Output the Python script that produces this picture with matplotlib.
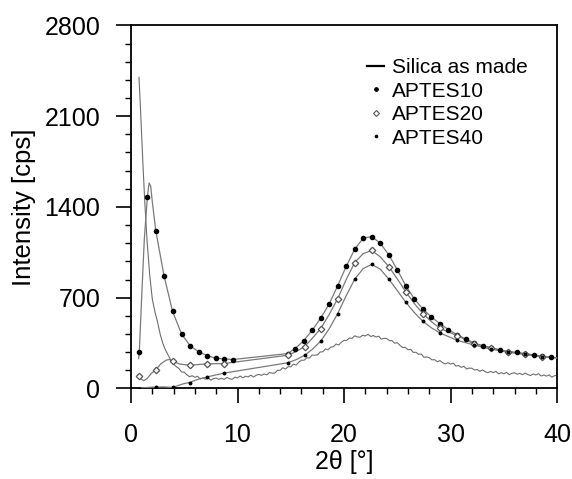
import numpy as np
import matplotlib
matplotlib.use("Agg")
import matplotlib.pyplot as plt
from matplotlib.lines import Line2D
from matplotlib.ticker import MultipleLocator

plt.rcParams['font.family'] = ['Liberation Sans', 'DejaVu Sans']

# ---------------- data ----------------
# Silica as made: steep low-angle part, then noisy scan at 0.25 deg steps
silica_head_x = [0.75, 0.85, 1.0, 1.15, 1.3, 1.5, 1.75, 2.0, 2.25, 2.5, 2.75,
                 3.0, 3.25, 3.5, 3.75, 4.0, 4.25]
silica_head_y = [2400, 2230, 1950, 1680, 1430, 1150, 880, 690, 590, 510, 415,
                 345, 295, 255, 218, 190, 168]
silica_scan_start = 4.5
silica_scan_step = 0.25
silica_scan_y = [
    154, 127, 126, 105, 91, 98, 86, 94,
    73, 81, 71, 82, 64, 76, 80, 70,
    79, 70, 85, 75, 71, 87, 82, 96,
    82, 94, 89, 103, 88, 102, 109, 101,
    112, 105, 123, 118, 119, 140, 140, 160,
    150, 168, 167, 188, 180, 203, 218, 218,
    236, 235, 258, 256, 259, 281, 283, 305,
    298, 319, 322, 343, 335, 357, 371, 371,
    389, 386, 406, 398, 395, 411, 405, 418,
    401, 408, 397, 403, 380, 387, 386, 369,
    369, 349, 353, 332, 316, 317, 298, 302,
    278, 279, 263, 266, 240, 243, 238, 221,
    222, 206, 215, 199, 189, 199, 188, 195,
    173, 177, 163, 171, 150, 157, 156, 142,
    146, 132, 143, 129, 121, 132, 122, 132,
    113, 122, 113, 124, 106, 117, 121, 110,
    117, 106, 119, 107, 100, 112, 104, 114,
    96, 104, 95, 105, 87, 98, 101,
]

# APTES10 (filled circles)
a10_x = [0.72, 0.78, 1.0, 1.25, 1.54, 1.7, 1.85, 2.0, 2.33, 3.1, 3.9, 4.75,
         5.55, 6.35, 7.15, 7.95, 8.75, 9.55, 14.7, 15.4, 16.2, 17.0, 17.8,
         18.6, 19.4, 20.2, 21.0, 21.8, 22.6, 23.4, 24.2, 25.0, 25.8, 26.6,
         27.4, 28.2, 29.0, 29.8, 30.6, 31.4, 32.2, 33.0, 33.8, 34.6, 35.4,
         36.2, 37.0, 37.8, 38.6, 39.4, 40.0]
a10_y = [230, 282, 700, 1150, 1480, 1585, 1560, 1440, 1215, 870, 595, 420,
         330, 282, 254, 233, 228, 223, 269, 308, 367, 448, 541,
         651, 792, 941, 1074, 1159, 1171, 1120, 1030, 915, 792, 690,
         613, 551, 500, 454, 415, 382, 351, 330, 313, 298, 285,
         279, 269, 259, 248, 241, 236]
a10_marker_x = [0.78, 1.54, 2.33, 3.1, 3.9, 4.75, 5.55, 6.35, 7.15, 7.95, 8.75,
                9.55, 14.7, 15.4, 16.2, 17.0, 17.8, 18.6, 19.4, 20.2, 21.0,
                21.8, 22.6, 23.4, 24.2, 25.0, 25.8, 26.6, 27.4, 28.2, 29.0,
                29.8, 30.6, 31.4, 32.2, 33.0, 33.8, 34.6, 35.4, 36.2, 37.0,
                37.8, 38.6, 39.4]

# APTES20 (open diamonds)
a20_x = [0.72, 0.9, 1.2, 1.5, 1.9, 2.36, 2.8, 3.3, 3.6, 3.92, 4.6, 5.5, 7.1,
         8.7, 14.7, 15.5, 16.3, 17.0, 17.8, 18.6, 19.4, 20.2, 21.0, 21.8,
         22.6, 23.4, 24.2, 25.0, 25.8, 26.6, 27.4, 28.2, 29.0, 30.6, 32.2,
         33.8, 35.4, 37.0, 38.6, 40.0]
a20_y = [95, 75, 60, 75, 115, 146, 190, 218, 224, 208, 188, 179, 190,
         192, 256, 285, 323, 385, 461, 570, 692, 840, 971, 1040,
         1064, 1015, 940, 845, 744, 655, 577, 515, 464, 408, 344,
         313, 283, 264, 246, 236]
a20_marker_x = [0.72, 2.36, 3.92, 5.5, 7.1, 8.7, 14.7, 16.3, 17.8, 19.4, 21.0,
                22.6, 24.2, 25.8, 27.4, 29.0, 30.6, 32.2, 33.8, 35.4, 37.0,
                38.6]

# APTES40 (small dots)
a40_x = [0.75, 1.0, 2.0, 2.36, 3.0, 3.92, 4.5, 5.0, 5.5, 6.0, 6.5, 7.1, 8.7,
         14.7, 15.5, 16.3, 17.0, 17.8, 18.6, 19.4, 20.2, 21.0, 21.8, 22.6,
         23.4, 24.2, 25.0, 25.8, 26.6, 27.4, 28.2, 29.0, 30.6, 32.2, 33.8,
         35.4, 37.0, 38.6, 40.0]
a40_y = [-5, 5, 10, 10, 12, 8, 25, 38, 46, 62, 76, 88, 118,
         198, 222, 256, 300, 364, 460, 577, 715, 843, 925, 957,
         920, 843, 755, 664, 585, 518, 468, 428, 372, 335, 303,
         280, 262, 245, 236]
a40_marker_x = [0.75, 2.36, 3.92, 5.5, 7.1, 8.7, 14.7, 16.3, 17.8, 19.4, 21.0,
                22.6, 24.2, 25.8, 27.4, 29.0, 30.6, 32.2, 33.8, 35.4, 37.0,
                38.6]

legend_labels = ["Silica as made", "APTES10", "APTES20", "APTES40"]
x_ticks = [0, 10, 20, 30, 40]
y_ticks = [0, 700, 1400, 2100, 2800]

# ---------------- figure ----------------
fig = plt.figure(figsize=(5.72, 4.79), dpi=100)
ax = fig.add_axes([0.2290, 0.1890, 0.7450, 0.7580])

silica_scan_x = silica_scan_start + silica_scan_step * np.arange(len(silica_scan_y))
silica_x = np.concatenate([silica_head_x, silica_scan_x])
silica_y = np.concatenate([silica_head_y, silica_scan_y])

line_col = '#7a7a7a'
ax.plot(silica_x, silica_y, color='#6e6e6e', lw=0.8, zorder=2)

def marked(xs, mxs):
    return [int(np.argmin(np.abs(np.asarray(xs) - m))) for m in mxs]

ax.plot(a10_x, a10_y, color=line_col, lw=0.9, zorder=3)
i10 = marked(a10_x, a10_marker_x)
ax.plot(np.asarray(a10_x)[i10], np.asarray(a10_y)[i10], ls='none',
        marker='o', ms=3.0, mfc='black', mec='black', zorder=4)

ax.plot(a20_x, a20_y, color=line_col, lw=0.9, zorder=3)
i20 = marked(a20_x, a20_marker_x)
ax.plot(np.asarray(a20_x)[i20], np.asarray(a20_y)[i20], ls='none',
        marker='D', ms=3.3, mfc='white', mec='#555555', mew=0.9, zorder=4)

ax.plot(a40_x, a40_y, color=line_col, lw=0.9, zorder=3)
i40 = marked(a40_x, a40_marker_x)
ax.plot(np.asarray(a40_x)[i40], np.asarray(a40_y)[i40], ls='none',
        marker='o', ms=1.8, mfc='black', mec='black', zorder=4)

ax.set_xlim(0, 40)
ax.set_ylim(0, 2800)
ax.set_xticks(x_ticks)
ax.set_yticks(y_ticks)
ax.xaxis.set_minor_locator(MultipleLocator(2))
ax.yaxis.set_minor_locator(MultipleLocator(140))
ax.tick_params(axis='both', which='major', direction='out', length=11,
               width=1.2, labelsize=18, top=False, right=False)
ax.tick_params(axis='x', which='major', pad=14)
ax.tick_params(axis='y', which='major', pad=11)
ax.tick_params(axis='both', which='minor', direction='out', length=4.5,
               width=1.0, top=False, right=False)
for s in ax.spines.values():
    s.set_linewidth(1.3)

ax.set_xlabel("2θ [°]", fontsize=18, labelpad=2)
ax.set_ylabel("Intensity [cps]", fontsize=18.5, labelpad=6)

handles = [
    Line2D([], [], color='black', lw=1.6),
    Line2D([], [], ls='none', marker='o', ms=2.4, mfc='black', mec='black'),
    Line2D([], [], ls='none', marker='D', ms=3.0, mfc='white', mec='#555555', mew=0.8),
    Line2D([], [], ls='none', marker='o', ms=1.6, mfc='black', mec='black'),
]
ax.legend(handles, legend_labels, loc='upper left', bbox_to_anchor=(0.535, 0.932),
          frameon=False, fontsize=15, handlelength=0.8, handletextpad=0.4,
          labelspacing=0.21, borderaxespad=0)

fig.savefig("out.png", dpi=100)
